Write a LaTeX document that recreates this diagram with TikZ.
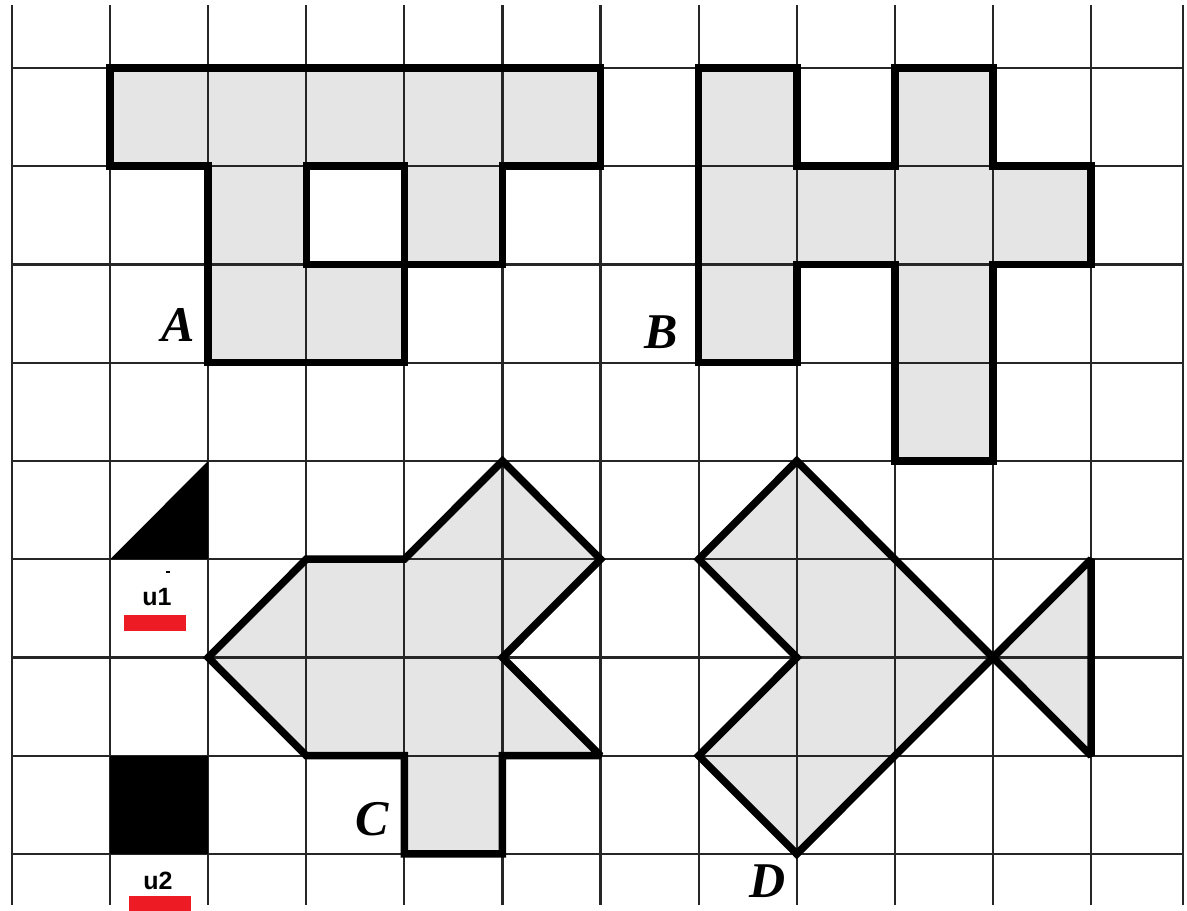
\documentclass[tikz,border=0pt]{standalone}
\usepackage{fontspec}
\setmainfont{Liberation Serif}
\newfontfamily\lsans{Liberation Sans}
\definecolor{shade}{gray}{0.9}
\definecolor{redbar}{HTML}{ED1C24}
\begin{document}
\begin{tikzpicture}[x=98.1pt,y=-98.25pt,
  gridline/.style={line width=2.2pt,black!85},
  outline/.style={line width=7.5pt,black,line join=miter,miter limit=2},
  shapefill/.style={fill=shade},
  letter/.style={font=\fontsize{50}{50}\selectfont\bfseries\itshape,inner sep=0pt},
  unitlabel/.style={font=\lsans\bfseries\fontsize{25}{25}\selectfont,inner sep=0pt},
  bar/.style={fill=redbar}]
\useasboundingbox (-0.1223,-0.6921) rectangle (11.978,8.580);
\fill[white] (-0.1223,-0.6921) rectangle (11.978,8.580);
% fills
\fill[shapefill,even odd rule] (1,0)--(6,0)--(6,1)--(5,1)--(5,2)--(4,2)--(4,3)--(2,3)--(2,1)--(1,1)--cycle (3,1) rectangle (4,2);
\fill[shapefill] (7,0)--(8,0)--(8,1)--(9,1)--(9,0)--(10,0)--(10,1)--(11,1)--(11,2)--(10,2)--(10,4)--(9,4)--(9,2)--(8,2)--(8,3)--(7,3)--cycle;
\fill[shapefill] (5,4)--(6,5)--(5,6)--(6,7)--(5,7)--(5,8)--(4,8)--(4,7)--(3,7)--(2,6)--(3,5)--(4,5)--cycle;
\fill[shapefill] (8,4)--(10,6)--(8,8)--(7,7)--(8,6)--(7,5)--cycle;
\fill[shapefill] (10,6)--(11,5)--(11,7)--cycle;
% grid
\foreach \i in {0,...,11} \draw[gridline] (\i,-0.64)--(\i,8.52);
\draw[gridline] (11.937,-0.64)--(11.937,8.52);
\foreach \j in {0,...,8} \draw[gridline] (0,\j)--(11.937,\j);
% outlines
\draw[outline] (1,0)--(6,0)--(6,1)--(5,1)--(5,2)--(4,2)--(4,3)--(2,3)--(2,1)--(1,1)--cycle;
\draw[outline] (3,1) rectangle (4,2);
\draw[outline] (7,0)--(8,0)--(8,1)--(9,1)--(9,0)--(10,0)--(10,1)--(11,1)--(11,2)--(10,2)--(10,4)--(9,4)--(9,2)--(8,2)--(8,3)--(7,3)--cycle;
\draw[outline] (5,4)--(6,5)--(5,6)--(6,7)--(5,7)--(5,8)--(4,8)--(4,7)--(3,7)--(2,6)--(3,5)--(4,5)--cycle;
\draw[outline] (8,4)--(10,6)--(8,8)--(7,7)--(8,6)--(7,5)--cycle;
\draw[outline] (10,6)--(11,5)--(11,7)--cycle;
% unit pieces
\fill[black] (1,5)--(2,4)--(2,5)--cycle;
\fill[black] (1,7) rectangle (2,8);
% labels
\node[letter] (la) at (1.692,2.616) {A};
\node[letter] (lb) at (6.616,2.687) {B};
\node[letter] (lc) at (3.670,7.644) {C};
\node[letter] (ld) at (7.706,8.275) {D};
\node[unitlabel] (u1) at (1.478,5.384) {u1};
\node[unitlabel] (u2) at (1.488,8.275) {u2};
\fill[black] (1.565,5.115) rectangle (1.615,5.135);
\fill[bar] (1.142,5.567) rectangle (1.774,5.730);
\fill[bar] (1.193,8.427) rectangle (1.825,8.580);
\end{tikzpicture}
\end{document}
